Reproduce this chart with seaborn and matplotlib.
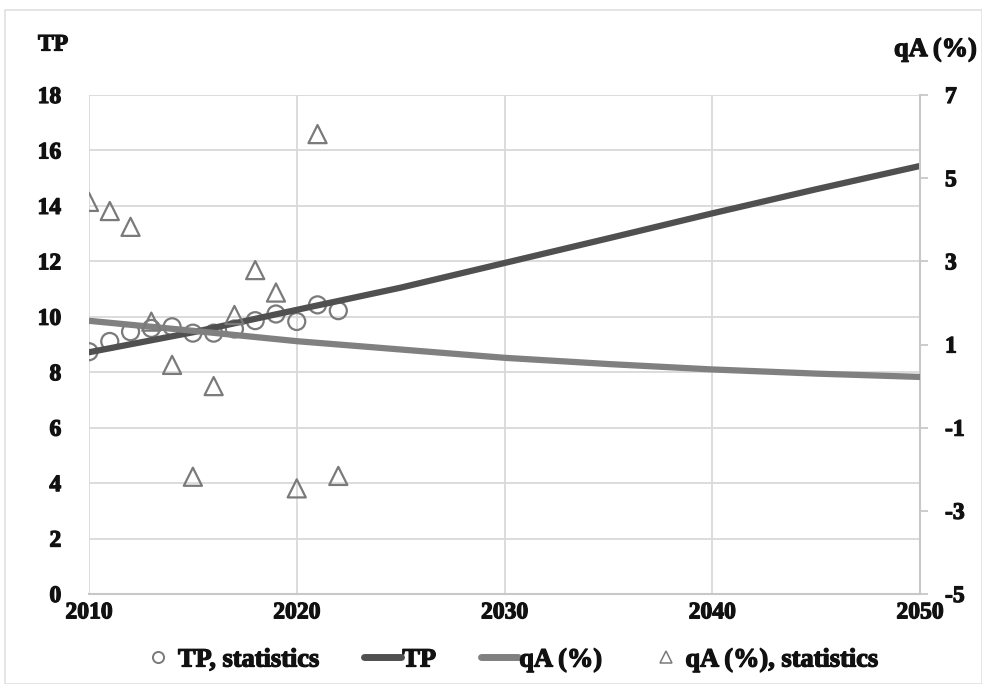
import matplotlib
matplotlib.use("Agg")
import matplotlib.pyplot as plt
import matplotlib.patheffects as pe
import seaborn as sns
import pandas as pd
from matplotlib.lines import Line2D
from matplotlib.patches import Rectangle

# Observed statistics
stat_years = [2010, 2011, 2012, 2013, 2014, 2015, 2016, 2017, 2018, 2019, 2020, 2021, 2022]
tp_stat = [8.74, 9.11, 9.46, 9.58, 9.64, 9.41, 9.41, 9.56, 9.86, 10.10, 9.83, 10.43, 10.22]
qa_stat = [4.43, 4.21, 3.83, 1.55, 0.51, -2.18, 0.00, 1.71, 2.79, 2.25, -2.46, 6.06, -2.16]

# Projections
proj_years = [2010, 2015, 2020, 2025, 2030, 2035, 2040, 2045, 2050]
tp_proj = [8.72, 9.44, 10.25, 11.05, 11.94, 12.83, 13.73, 14.60, 15.44]
qa_proj = [1.57, 1.33, 1.08, 0.88, 0.68, 0.53, 0.40, 0.30, 0.22]

left_ticks = [0, 2, 4, 6, 8, 10, 12, 14, 16, 18]
right_ticks = [-5, -3, -1, 1, 3, 5, 7]
x_ticks = [2010, 2020, 2030, 2040, 2050]

stats = pd.DataFrame({"year": stat_years, "TP": tp_stat, "qA": qa_stat})
proj = pd.DataFrame({"year": proj_years, "TP": tp_proj, "qA": qa_proj})

sns.set_theme(style="white")
plt.rcParams["font.family"] = ["Liberation Serif", "DejaVu Serif"]
plt.rcParams["font.weight"] = "bold"
plt.rcParams["axes.unicode_minus"] = False

txt_c = "#111111"
# heavier strokes for the serif lettering
heavy = [pe.withStroke(linewidth=0.9, foreground=txt_c)]

fig = plt.figure(figsize=(9.82, 6.84), dpi=100)
ax = fig.add_axes([89 / 982, 1 - 594 / 684, (920 - 89) / 982, (594 - 95) / 684])
ax2 = ax.twinx()

grid_c = "#d9d9d9"
tp_c = "#505050"
qa_c = "#808080"
mk_c = "#7a7a7a"

sns.scatterplot(data=stats, x="year", y="TP", ax=ax, marker="o", s=150,
                facecolors="none", edgecolor=mk_c, linewidth=1.6, zorder=3)
sns.lineplot(data=proj, x="year", y="TP", ax=ax, color=tp_c, linewidth=4.5, zorder=4)

sns.lineplot(data=proj, x="year", y="qA", ax=ax2, color=qa_c, linewidth=4.5, zorder=3)
sns.scatterplot(data=stats, x="year", y="qA", ax=ax2, marker="^", s=170,
                facecolors="none", edgecolor=mk_c, linewidth=1.6, zorder=4)

ax.set_xlim(2010, 2050)
ax.set_ylim(0, 18)
ax2.set_ylim(-5, 7)
ax.set_xticks(x_ticks)
ax.set_yticks(left_ticks)
ax2.set_yticks(right_ticks)

ax.grid(True, color=grid_c, linewidth=1.3)
ax.set_axisbelow(True)
ax2.grid(False)

for a in (ax, ax2):
    a.set_xlabel("")
    a.set_ylabel("")
    for s in a.spines.values():
        s.set_visible(False)

ax2.spines["right"].set_visible(True)
ax2.spines["right"].set_color("#c8c8c8")
ax2.spines["right"].set_linewidth(1.5)
ax.spines["bottom"].set_visible(True)
ax.spines["bottom"].set_color("#c8c8c8")
ax.spines["bottom"].set_linewidth(1.5)

fs = 17
ax.tick_params(axis="y", length=0, labelsize=fs, pad=20)
ax.tick_params(axis="x", length=0, labelsize=fs, pad=6)
ax2.tick_params(axis="y", direction="out", length=6, width=1.3, color="#c8c8c8",
                labelsize=fs, pad=12)
for lbl in ax.get_xticklabels() + ax.get_yticklabels() + ax2.get_yticklabels():
    lbl.set_fontweight("bold")
    lbl.set_color(txt_c)
    lbl.set_path_effects(heavy)

fig.text(38 / 982, 1 - 45 / 684, "TP", fontsize=fs, fontweight="bold",
         va="center", ha="left", color=txt_c, path_effects=heavy)
fig.text(894 / 982, 1 - 50 / 684, "qA (%)", fontsize=19, fontweight="bold",
         va="center", ha="left", color=txt_c, path_effects=heavy)

handles = [
    Line2D([], [], marker="o", linestyle="none", markerfacecolor="none",
           markeredgecolor=mk_c, markersize=8, markeredgewidth=1.4),
    Line2D([], [], color=tp_c, linewidth=5),
    Line2D([], [], color=qa_c, linewidth=5),
    Line2D([], [], marker="^", linestyle="none", markerfacecolor="none",
           markeredgecolor=mk_c, markersize=9, markeredgewidth=1.1),
]
labels = ["TP, statistics", "TP", "qA (%)", "qA (%), statistics"]
for a in (ax, ax2):
    if a.get_legend():
        a.get_legend().remove()
leg = fig.legend(handles, labels, loc="center", bbox_to_anchor=(509 / 982, 1 - 660 / 684),
                 ncol=4, frameon=False, fontsize=19, handlelength=1.4,
                 handletextpad=0.05, columnspacing=1.7)
for t in leg.get_texts():
    t.set_fontweight("bold")
    t.set_color(txt_c)
    t.set_path_effects(heavy)

fig.patches.append(Rectangle((5 / 982, 0), 1 - 5 / 982, 1 - 10 / 684,
                             transform=fig.transFigure, fill=False,
                             edgecolor="#e0e0e0", linewidth=1.2))

fig.savefig("out.png", dpi=100)
